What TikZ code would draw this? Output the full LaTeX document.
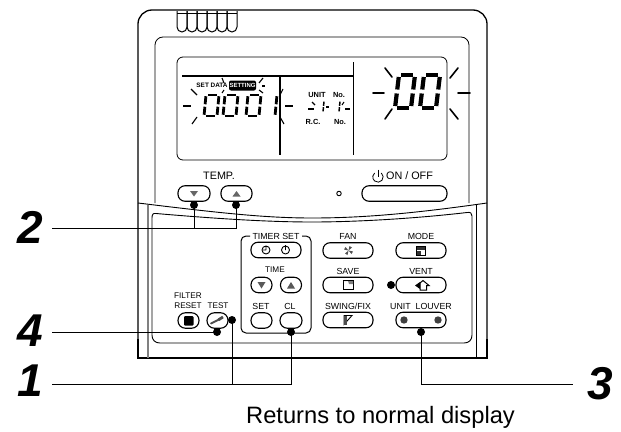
\documentclass[tikz,border=0pt]{standalone}
\usepackage{fontspec}
\setmainfont{Liberation Sans}
\usetikzlibrary{calc}
\tikzset{
  body/.style={line width=1.3pt,black},
  pill/.style={draw,line width=1.1pt,rounded corners=7pt,minimum height=15.5pt,inner sep=0pt,fill=white},
  lbl/.style={font=\fontsize{8.8}{9}\selectfont,inner sep=0pt},
  lblsm/.style={font=\fontsize{8.2}{9}\selectfont,inner sep=0pt},
  lead/.style={line width=1pt},
  hitdot/.style={circle,fill=black,inner sep=0pt,minimum size=8pt},
  numeral/.style={font=\fontsize{46}{46}\selectfont\bfseries\itshape,inner sep=0pt},
  ray/.style={line width=1.6pt,line cap=round},
  minray/.style={line width=1.1pt},
  seg/.style={line width=2.8pt},
  lcdtxt/.style={font=\fontsize{7.4}{7}\selectfont\bfseries,inner sep=0pt},
  lcdsm/.style={font=\fontsize{6}{6}\selectfont\bfseries,inner sep=0pt}
}
% seven segment digit: #1 x,#2 y (lower-left), #3 w, #4 h, #5 slant, #6 segments
\newcommand{\sevenseg}[6]{%
  \begin{scope}[shift={(#1,#2)},x={(#3pt,0pt)},y={(#5pt,#4pt)}]
    \foreach \s in {#6}{%
      \ifcase\s\relax
        \draw[seg] (0.14,1) -- (0.86,1);\or
        \draw[seg] (1,0.94) -- (1,0.56);\or
        \draw[seg] (1,0.44) -- (1,0.06);\or
        \draw[seg] (0.14,0) -- (0.86,0);\or
        \draw[seg] (0,0.44) -- (0,0.06);\or
        \draw[seg] (0,0.94) -- (0,0.56);\or
        \draw[seg] (0.12,0.5) -- (0.88,0.5);\fi}
  \end{scope}}
\newcommand{\zerodigit}[4]{\sevenseg{#1}{#2}{#3}{#4}{2}{0,1,2,3,4,5}}
\begin{document}
\begin{tikzpicture}[x=1pt,y=-1pt]
\useasboundingbox (0,0) rectangle (621,431);
% housing
\draw[body,rounded corners=14pt] (138,340) -- (138,10) -- (487,10) -- (487,340);
\draw[body] (138,339) -- (138,358) -- (487,358) -- (487,339);
\draw[line width=.8pt,rounded corners=8pt] (155,203) -- (155,37) -- (469,37) -- (469,203);
\draw[line width=.9pt] (138,203) .. controls (220,213) and (265,218) .. (312,218) .. controls (360,218) and (410,214) .. (487,203);
\draw[line width=1.2pt,gray] (148,205) -- (148,358);
\draw[line width=1pt] (476,205) -- (476,358);
\draw[line width=.9pt] (152,218) .. controls (152,214.5) and (153,213) .. (156,213.5) .. controls (220,219) and (270,222) .. (312,222) .. controls (360,222) and (420,218) .. (467,212.5) .. controls (470.5,212) and (472,213) .. (472,216) -- (472,335) .. controls (472,340) and (469,343) .. (464,343) -- (160,343) .. controls (155,343) and (152,340) .. (152,335) -- cycle;
% hanger
\foreach \i in {0,...,5}{\draw[line width=1pt] (177+10*\i,11) -- (177+10*\i,27) arc[start angle=180,end angle=0,radius=5] -- (187+10*\i,11);}
\draw[line width=.9pt] (177,13) -- (237,13);
% LCD
\draw[line width=.8pt,rounded corners=6pt] (177,57) rectangle (447,160);
\draw[line width=1.5pt] (182,76) -- (353,76);
\draw[line width=1.5pt] (280,76) -- (280,155);
\draw[line width=.9pt] (353,62) -- (353,155);
% LCD digits
\zerodigit{204}{116}{13}{21}
\zerodigit{223}{116}{13}{21}
\zerodigit{246}{116}{13}{21}
\sevenseg{271}{116}{4}{21}{2}{1,2}
\begin{scope}[seg/.style={line width=1.5pt}]
\sevenseg{321}{112}{2}{11}{1}{1,2}
\sevenseg{337}{112}{2}{11}{1}{1,2}
\end{scope}
\begin{scope}[seg/.style={line width=4.2pt}]
\sevenseg{395}{108}{16}{33}{4}{0,1,2,3,4,5}
\sevenseg{420}{108}{16}{33}{4}{0,1,2,3,4,5}
\end{scope}
% rays
\foreach \a/\b/\c/\d in {191/89/197/95,183/106/191/106,192/124/197/117,283/89/280/95,285/106/293/106,280/117/284/124,222/78/224/83,222/93/224/90,263/78/259/83,262/86/265/86,259/90/263/93,312/102/315/105,308/109/314/109,326/107/329/107,344/102/342/105,345/109/350/109}
  {\draw[minray] (\a,\b) -- (\c,\d);}
\foreach \a/\b/\c/\d in {385/68/392/77,373/93/384/93,385/119/392/109,458/68/450/78,458/93/470/93,450/109/458/119}
  {\draw[ray] (\a,\b) -- (\c,\d);}
\node[font=\fontsize{6.4}{6}\selectfont\bfseries,inner sep=0pt] (setdata) at (212,85) {SET DATA};
\node[fill=black,rounded corners=2pt,minimum width=27pt,minimum height=10pt,inner sep=0pt,text=white,lcdsm] (setting) at (242.5,85.5) {SETTING};
\node[lcdtxt] (unitl) at (317,95) {UNIT};
\node[lcdtxt] (nol) at (339,95) {No.};
\node[lcdtxt] (rcl) at (313,122) {R.C.};
\node[lcdtxt] (nor) at (340,122) {No.};
% upper buttons
\node[font=\fontsize{10.8}{11}\selectfont,inner sep=0pt] (temp) at (219,176) {TEMP.};
\node[pill,minimum width=32pt] (tdown) at (194,193.5) {};
\node[pill,minimum width=31pt] (tup) at (236.5,193.5) {};
\fill[gray!80!black] (190,191) -- (198,191) -- (194,196.5) -- cycle;
\fill[gray!80!black] (232.5,196.5) -- (240.5,196.5) -- (236.5,191) -- cycle;
\node[pill,minimum width=85pt] (onoff) at (404.5,193.5) {};
\node[font=\fontsize{10.8}{11}\selectfont,inner sep=0pt] (onofft) at (409.5,176) {ON / OFF};
\draw[line width=.8pt] (381.3,173) arc[start angle=310,end angle=590,radius=5.2];
\draw[line width=.8pt] (378,169.5) -- (378,176.5);
\node[circle,draw,line width=.9pt,inner sep=0pt,minimum size=4.5pt] (led) at (339,193.5) {};
% timer box
\draw[line width=1pt,rounded corners=5pt] (250,236) -- (241,236) -- (241,333) -- (311,333) -- (311,236) -- (302,236);
\node[lbl] (timerset) at (276,236) {TIMER SET};
\node[pill,minimum width=50pt] (clock) at (276,250) {};
\draw[line width=.9pt] (266,250) circle[radius=4] (266,250) -- (266,246.5) (266,250) -- (263,250);
\draw[line width=.9pt] (285.5,250) circle[radius=4] (285.5,250) -- (285.5,245);
\node[lblsm] (time) at (275,270) {TIME};
\node[pill,minimum width=21pt,rounded corners=7.5pt] (timedown) at (261.5,285) {};
\node[pill,minimum width=21pt,rounded corners=7.5pt] (timeup) at (291,285) {};
\fill[gray!70!black] (257.5,282) -- (265.5,282) -- (261.5,288.5) -- cycle;
\fill[gray!70!black] (287,288.5) -- (295,288.5) -- (291,282) -- cycle;
\node[lbl] (setl) at (261,306) {SET};
\node[lbl] (cll) at (290,306) {CL};
\node[pill,minimum width=21pt,rounded corners=7.5pt] (setb) at (261.5,320.5) {};
\node[pill,minimum width=22pt,rounded corners=7.5pt] (clb) at (291,320.5) {};
% filter/test
\node[lblsm] (filter) at (188,296) {FILTER};
\node[lblsm] (reset) at (188,306) {RESET};
\node[lblsm] (test) at (218,306) {TEST};
\node[pill,minimum width=21pt,rounded corners=7.5pt] (filterb) at (188.5,320.5) {};
\fill[rounded corners=1pt] (184,316) rectangle (193.5,325.5);
\node[pill,minimum width=21pt,rounded corners=7.5pt] (testb) at (217.5,320.5) {};
\draw[line width=2pt,gray!60!black,line cap=round] (211,323.5) -- (219,319.5);
\draw[line width=2.8pt,gray!60!black] (218.5,319.8) -- (223,317);
% right buttons
\node[lbl] (fan) at (348,236) {FAN};
\node[lbl] (mode) at (421,236) {MODE};
\node[lbl] (save) at (348,271) {SAVE};
\node[lbl] (vent) at (421,271) {VENT};
\node[lbl] (swing) at (348,306) {SWING/FIX};
\node[lbl] (unit) at (421,306) {UNIT\ \ LOUVER};
\node[pill,minimum width=50pt] (fanb) at (348,250.5) {};
\node[pill,minimum width=50pt] (modeb) at (421,250.5) {};
\node[pill,minimum width=50pt] (saveb) at (348,285) {};
\node[pill,minimum width=50pt] (ventb) at (421,285) {};
\node[pill,minimum width=50pt] (swingb) at (348,320) {};
\node[pill,minimum width=50pt] (louverb) at (421,320) {};
% icons
\foreach \r in {0,90,180,270}{\fill[gray!65!black,rotate around={\r:(348.5,250.5)}] (348.5,250.5) -- (349.5,246) -- (352,247.5) -- cycle;}
\draw[line width=.9pt,fill=white] (416.5,246) rectangle (425,255);
\fill[black!80] (417,246.5) rectangle (424.5,249.5);
\fill[black!80] (417,250.5) rectangle (421,254.5);
\draw[line width=.9pt,fill=white] (343,280.5) rectangle (353,289);
\fill[gray] (343,281) -- (348,281) -- (349,284) -- (353,284) -- (353,281) -- cycle;
\draw[line width=1pt,fill=white] (423,280.5) -- (429,285.5) -- (426.5,285.5) -- (426.5,290) -- (420,290) -- (420,283) -- cycle;
\fill (415,285.5) -- (420,282) -- (420,289) -- cycle;
\draw[line width=.9pt] (344,315.5) -- (352,315.5) -- (344,324.5) -- cycle;
\fill[gray!60!black] (344,315.5) rectangle (347,324.5);
\fill[gray!50!black] (404,320) circle[radius=3.7] (438,320) circle[radius=3.7];
% hit dots
\node[hitdot] (d1) at (194,205) {};
\node[hitdot] (d2) at (236,205) {};
\node[hitdot] (d3) at (217,332) {};
\node[hitdot] (d4) at (232,320) {};
\node[hitdot] (d5) at (291,332) {};
\node[hitdot] (d6) at (391,285) {};
\node[hitdot] (d7) at (421,332) {};
% numerals and leaders
\node[numeral] (n2) at (30,227) {2};
\node[numeral] (n4) at (30,331) {4};
\node[numeral] (n1) at (30,381) {1};
\node[numeral] (n3) at (600,384) {3};
\coordinate (s2) at (52,228);
\coordinate (s4) at (52,332);
\coordinate (s1) at (52,384);
\coordinate (e3) at (573,384);
\coordinate (j2) at (236,228);
\coordinate (j2b) at (194,228);
\coordinate (j1a) at (232,384);
\coordinate (j1b) at (291,384);
\coordinate (j3) at (421,384);
\draw[lead] (s2) -- (j2) -- (d2.center);
\draw[lead] (d1.center) -- (j2b);
\draw[lead] (s4) -- (d3.center);
\draw[lead] (s1) -- (j1b) -- (d5.center);
\draw[lead] (d4.center) -- (j1a);
\draw[lead] (d7.center) -- (j3) -- (e3);
\node[font=\fontsize{23.7}{25}\selectfont,inner sep=0pt,anchor=base] (ret) at (380.5,423) {Returns to normal display};
\end{tikzpicture}
\end{document}
